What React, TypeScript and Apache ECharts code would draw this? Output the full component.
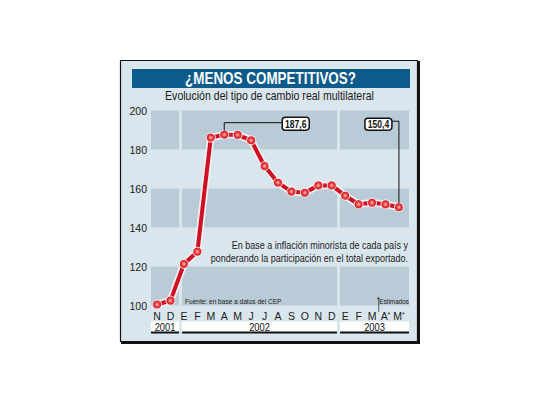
import React, { useEffect, useRef } from "react";
import * as echarts from "echarts";

// ---- data ----
const months = ["N", "D", "E", "F", "M", "A", "M", "J", "J", "A", "S", "O", "N", "D", "E", "F", "M", "A*", "M*"];
const values = [100.5, 102.5, 121.3, 127.6, 186.1, 187.6, 187.5, 184.7, 171.5, 163.0, 158.4, 157.8, 161.6, 161.6, 156.3, 151.9, 152.7, 151.9, 150.4];
const yearLabels = ["2001", "2002", "2003"];
const bandRanges = [[180, 200], [140, 160], [100, 120]];
const callout1Index = 5; // 187,6
const callout2Index = 18; // 150,4
const estimateSplit = 16.5;

const TITLE = "¿MENOS COMPETITIVOS?";
const SUBTITLE = "Evolución del tipo de cambio real multilateral";
const NOTE1 = "En base a inflación minorista de cada país y";
const NOTE2 = "ponderando la participación en el total exportado.";
const SOURCE = "Fuente: en base a datos del CEP";

// ---- layout ----
const FONT = "'Liberation Sans', Arial, sans-serif";
const BG = "#dae6ee";
const BAND = "#b9cbd6";
const RED = "#cf1023";
const INK = "#1a1a1a";
// band x extents (in month-index units) per year column
const colLeft = [-0.45, 1.86, 13.62];
const colRight = [1.64, 13.39, 18.75];

const fmt = (v: number) => v.toFixed(1).replace(".", ",");

function txt(text: string, x: number, y: number, font: string, align: string, sx: number, z = 5, fill = INK, extra: any = {}) {
  return {
    type: "text", z, x, y, scaleX: sx,
    style: { text, x: 0, y: 0, font, fill, textAlign: align, textVerticalAlign: "middle", ...extra },
  };
}

export default function App() {
  const ref = useRef<HTMLDivElement>(null);
  useEffect(() => {
    if (!ref.current) return;
    const chart = echarts.init(ref.current, null, { renderer: "svg" });
    const pts = values.map((v, i) => [i, v]);
    const markAreaData: any[] = [];
    for (let c = 0; c < colLeft.length; c++) {
      for (const r of bandRanges) {
        markAreaData.push([
          { xAxis: colLeft[c], yAxis: r[0] },
          { xAxis: colRight[c], yAxis: r[1] },
        ]);
      }
    }
    const markerColor = new echarts.graphic.RadialGradient(0.5, 0.5, 0.5, [
      { offset: 0, color: "#ffc4c4" },
      { offset: 0.45, color: "#f04848" },
      { offset: 1, color: "#c50d1e" },
    ]);
    chart.setOption({
      animation: false,
      grid: { left: 151, top: 110.5, width: 258, height: 195, containLabel: false, outerBoundsMode: "none" },
      xAxis: {
        type: "value",
        min: -0.45,
        max: 18.75,
        axisLine: { show: false },
        axisTick: { show: false },
        splitLine: { show: false },
        axisLabel: {
          customValues: months.map((_, i) => i),
          formatter: (v: number) => {
            const m = months[Math.round(v)] || "";
            if (m.endsWith("*")) return "{a|" + m.slice(0, -1) + "}{s|*}";
            return "{a|" + m + "}";
          },
          margin: 5,
          rich: {
            a: { fontFamily: FONT, fontSize: 10.5, color: INK },
            s: { fontFamily: FONT, fontSize: 7, color: INK, verticalAlign: "top", padding: [0, 0, 3, 0] },
          },
        },
      },
      yAxis: {
        type: "value",
        min: 100,
        max: 200,
        interval: 20,
        axisLine: { show: false },
        axisTick: { show: false },
        splitLine: { show: false },
        axisLabel: { margin: 4, fontFamily: FONT, fontSize: 10.5, color: INK },
      },
      series: [
        {
          type: "line",
          data: pts,
          symbol: "none",
          lineStyle: { width: 7.5, color: "#f6eeee" },
          silent: true,
          z: 2,
          markArea: { silent: true, itemStyle: { color: BAND }, data: markAreaData },
        },
        {
          type: "line",
          data: pts,
          symbol: "circle",
          symbolSize: 9,
          lineStyle: { width: 4, color: RED },
          itemStyle: { color: markerColor, borderColor: "#fff4f4", borderWidth: 1 },
          z: 3,
        },
      ],
    });

    const px = (x: number, y: number) => chart.convertToPixel({ gridIndex: 0 }, [x, y]) as number[];
    const p1 = px(callout1Index, values[callout1Index]);
    const p2 = px(callout2Index, values[callout2Index]);
    const yearTop = 321.5;
    const yearH = 10.5;
    const graphics: any[] = [];
    // frame
    graphics.push({ type: "rect", z: -10, shape: { x: 120.5, y: 60.5, width: 297, height: 281 }, style: { fill: BG, stroke: "#111", lineWidth: 1.2 } });
    graphics.push({ type: "polyline", z: -9, shape: { points: [[418.5, 61], [418.5, 342.5], [121, 342.5]] }, style: { stroke: "#111", lineWidth: 3, fill: null } });
    // title bar
    graphics.push({ type: "rect", z: -8, shape: { x: 132, y: 69, width: 278, height: 19 }, style: { fill: "#0c5b8b" } });
    graphics.push(txt(TITLE, 270.5, 79, "bold 16px " + FONT, "center", 0.84, 5, "#ffffff"));
    graphics.push(txt(SUBTITLE, 269.5, 96, "12px " + FONT, "center", 0.88));
    // notes
    graphics.push(txt(NOTE1, 408, 245, "11px " + FONT, "right", 0.82));
    graphics.push(txt(NOTE2, 408, 258, "11px " + FONT, "right", 0.82));
    graphics.push(txt(SOURCE, 185, 301, "8px " + FONT, "left", 0.82));
    const split = px(estimateSplit, 100);
    graphics.push({ type: "line", z: 5, shape: { x1: split[0], y1: 297, x2: split[0], y2: 312 }, style: { stroke: "#333", lineWidth: 0.8 } });
    graphics.push(txt("{s|*}{t|Estimados}", 409, 301, "8px " + FONT, "right", 0.8, 5, INK, {
      rich: {
        s: { fontFamily: FONT, fontSize: 7, fill: INK, verticalAlign: "top", padding: [0, 0, 3, 0] },
        t: { fontFamily: FONT, fontSize: 8, fill: INK },
      },
    }));
    // year boxes
    for (let c = 0; c < yearLabels.length; c++) {
      const l = px(colLeft[c], 100)[0];
      const r = px(colRight[c], 100)[0];
      graphics.push({ type: "rect", z: 4, shape: { x: l, y: yearTop, width: r - l, height: yearH }, style: { fill: "#ffffff" } });
      graphics.push({ type: "line", z: 4, shape: { x1: l, y1: yearTop + yearH + 0.5, x2: r, y2: yearTop + yearH + 0.5 }, style: { stroke: "#111", lineWidth: 2 } });
      graphics.push(txt(yearLabels[c], (l + r) / 2, yearTop + yearH / 2 + 0.5, "11px " + FONT, "center", 0.85, 5, "#111"));
    }
    // callout 1
    const b1x = p1[0] + 58, b1y = p1[1] - 17.5;
    graphics.push({ type: "polyline", z: 6, shape: { points: [[p1[0], p1[1] - 4], [p1[0], p1[1] - 12], [b1x, p1[1] - 12]] }, style: { stroke: "#111", lineWidth: 1, fill: null } });
    graphics.push({ type: "rect", z: 7, shape: { x: b1x, y: b1y, width: 27, height: 13, r: 3 }, style: { fill: "#fff", stroke: "#111", lineWidth: 1.5 } });
    graphics.push(txt(fmt(values[callout1Index]), b1x + 13.5, b1y + 6.8, "bold 11px " + FONT, "center", 0.78, 8, "#111"));
    // callout 2
    const b2x = p2[0] - 34, b2y = p2[1] - 89;
    graphics.push({ type: "polyline", z: 6, shape: { points: [[b2x + 27, p2[1] - 86], [p2[0], p2[1] - 86], [p2[0], p2[1] - 4]] }, style: { stroke: "#111", lineWidth: 1, fill: null } });
    graphics.push({ type: "rect", z: 7, shape: { x: b2x, y: b2y, width: 27, height: 12, r: 3 }, style: { fill: "#fff", stroke: "#111", lineWidth: 1.5 } });
    graphics.push(txt(fmt(values[callout2Index]), b2x + 13.5, b2y + 6.3, "bold 11px " + FONT, "center", 0.78, 8, "#111"));

    chart.setOption({ graphic: graphics });
    return () => chart.dispose();
  }, []);
  return <div ref={ref} style={{ width: 540, height: 405, position: "absolute", left: 0, top: 0 }} />;
}
